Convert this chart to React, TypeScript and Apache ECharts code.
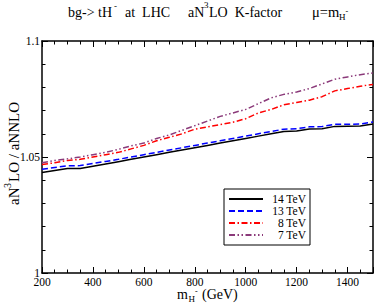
import React, { useEffect, useRef } from "react";
import * as echarts from "echarts";

const massGeV = [200, 250, 300, 350, 400, 450, 500, 550, 600, 650, 700, 750, 800, 850, 900, 950, 1000, 1050, 1100, 1150, 1200, 1250, 1300, 1350, 1400, 1450, 1500];
const k14TeV = [1.0433, 1.0442, 1.0450, 1.0450, 1.0460, 1.0470, 1.0480, 1.0490, 1.0500, 1.0510, 1.0520, 1.0530, 1.0540, 1.0550, 1.0560, 1.0570, 1.0580, 1.0590, 1.0600, 1.0610, 1.0612, 1.0621, 1.0622, 1.0632, 1.0633, 1.0634, 1.0642];
const k13TeV = [1.0447, 1.0455, 1.0462, 1.0463, 1.0472, 1.0481, 1.0490, 1.0500, 1.0510, 1.0520, 1.0530, 1.0540, 1.0550, 1.0560, 1.0570, 1.0580, 1.0590, 1.0600, 1.0610, 1.0620, 1.0622, 1.0630, 1.0631, 1.0641, 1.0641, 1.0642, 1.0651];
const k8TeV = [1.0468, 1.0475, 1.0485, 1.0490, 1.0500, 1.0510, 1.0520, 1.0535, 1.0550, 1.0570, 1.0585, 1.0600, 1.0620, 1.0630, 1.0640, 1.0650, 1.0665, 1.0690, 1.0705, 1.0725, 1.0735, 1.0745, 1.0760, 1.0785, 1.0795, 1.0805, 1.0813];
const k7TeV = [1.0475, 1.0485, 1.0492, 1.0500, 1.0510, 1.0520, 1.0533, 1.0548, 1.0560, 1.0580, 1.0595, 1.0615, 1.0635, 1.0655, 1.0675, 1.0690, 1.0705, 1.0730, 1.0755, 1.0770, 1.0780, 1.0795, 1.0815, 1.0835, 1.0845, 1.0855, 1.0862];

const seriesNames = ["14 TeV", "13 TeV", "8 TeV", "7 TeV"];
const seriesColors = ["#000000", "#0000ff", "#ff0000", "#8b3a7a"];

const SERIF = "'Liberation Serif', 'DejaVu Serif', serif";

function pairs(ys: number[]) {
  return massGeV.map((x, i) => [x, ys[i]]);
}

export default function App() {
  const ref = useRef<HTMLDivElement>(null);
  useEffect(() => {
    if (!ref.current) return;
    const chart = echarts.init(ref.current, null, { renderer: "svg" });
    const axisLine = { show: true, onZero: false, lineStyle: { color: "#000", width: 1.5 } };
    const tick = { show: true, inside: true, length: 6, lineStyle: { color: "#000", width: 1 } };
    const minor = (n: number) => ({ show: true, splitNumber: n, length: 3.5, lineStyle: { color: "#000", width: 1 } });
    const label = {
      color: "#000", fontFamily: SERIF, fontSize: 11.5,
      rich: { s: { fontFamily: SERIF, fontSize: 11.5, color: "#000" } },
    };
    const dashes: any[] = ["solid", [6, 3], [6, 2.5, 1.5, 2.5], [6, 2.5, 1.5, 2.5, 1.5, 2.5]];
    const datasets = [k14TeV, k13TeV, k8TeV, k7TeV];

    const t = (text: string, x: number, y: number, size: number, extra: any = {}) => ({
      type: "text",
      x,
      y,
      style: { text, fontFamily: SERIF, fontSize: size, fill: "#000", textAlign: "left", textVerticalAlign: "middle", ...extra },
    });

    chart.setOption({
      animation: false,
      backgroundColor: "#fff",
      textStyle: { fontFamily: SERIF },
      grid: { left: 42, right: 3, top: 41, bottom: 32, containLabel: false },
      xAxis: [
        {
          type: "value", min: 200, max: 1500, interval: 200, position: "bottom",
          axisLine, axisTick: tick, minorTick: minor(4), splitLine: { show: false },
          axisLabel: { ...label, margin: 3, showMaxLabel: false, formatter: (v: number) => `{s|${v}}` },
        },
        {
          type: "value", min: 200, max: 1500, interval: 200, position: "top",
          axisLine, axisTick: tick, minorTick: minor(4), splitLine: { show: false },
          axisLabel: { show: false },
        },
      ],
      yAxis: [
        {
          type: "value", min: 1, max: 1.1, interval: 0.05, position: "left",
          axisLine, axisTick: tick, minorTick: minor(5), splitLine: { show: false },
          axisLabel: { ...label, margin: 2, formatter: (v: number) => `{s|${Math.round(v * 100) / 100}}` },
        },
        {
          type: "value", min: 1, max: 1.1, interval: 0.05, position: "right",
          axisLine, axisTick: tick, minorTick: minor(5), splitLine: { show: false },
          axisLabel: { show: false },
        },
      ],
      legend: {
        orient: "vertical",
        left: 224,
        top: 189,
        data: seriesNames,
        itemWidth: 34,
        itemHeight: 8,
        itemGap: 0,
        padding: [4, 4, 4, 4],
        borderColor: "#000",
        borderWidth: 1,
        backgroundColor: "#fff",
        itemStyle: { opacity: 0, borderWidth: 0 },
        formatter: (n: string) => `{r|${n}}`,
        textStyle: {
          color: "#000", fontFamily: SERIF, fontSize: 11.5, lineHeight: 11,
          rich: { r: { width: 38, align: "right", fontFamily: SERIF, fontSize: 11.5, lineHeight: 11, color: "#000" } },
        },
      },
      series: datasets.map((ys, i) => ({
        name: seriesNames[i],
        type: "line",
        xAxisIndex: 0,
        yAxisIndex: 0,
        data: pairs(ys),
        symbol: "none",
        showSymbol: false,
        color: seriesColors[i],
        lineStyle: { color: seriesColors[i], width: 1.5, type: dashes[i] },
      })),
      graphic: [
        t("bg-> tH", 68, 12.3, 14),
        t("-", 114, 6, 9),
        t("at  LHC", 125, 12.3, 14),
        t("aN", 188, 12.3, 14),
        t("3", 204, 5, 9),
        t("LO  K-factor", 209, 12.3, 14),
        t("\u03bc=m", 312, 12.3, 14.5),
        t("H", 339, 17, 9),
        t("-", 345.5, 11, 8),
        {
          type: "group",
          x: 13.5,
          y: 205,
          rotation: Math.PI / 2,
          children: [
            t("aN", 0, 0, 15),
            t("3", 17, -6, 10),
            t("LO / aNNLO", 23, 0, 15),
          ],
        },
        t("m", 177, 294, 14),
        t("H", 188.5, 299, 9),
        t("-", 195, 291.5, 8),
        t("(GeV)", 202, 294, 14),
      ],
    });
    return () => chart.dispose();
  }, []);
  return <div ref={ref} style={{ position: "absolute", left: 0, top: 0, width: 376, height: 305 }} />;
}
